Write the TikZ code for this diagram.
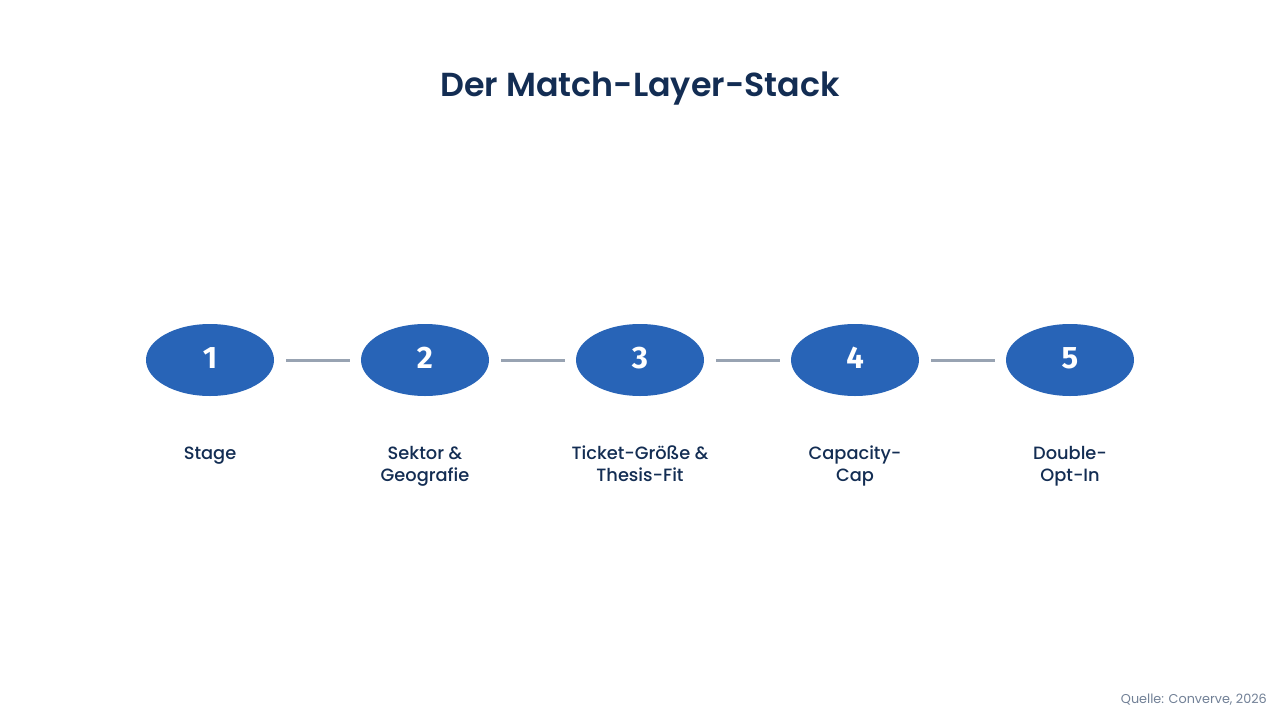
\documentclass[tikz,border=0pt]{standalone}
\usepackage{fontspec}
\setmainfont{Poppins}
\usetikzlibrary{shapes.geometric}
\definecolor{navy}{HTML}{132D53}
\definecolor{blue}{HTML}{2864B7}
\definecolor{conn}{HTML}{98A3B2}
\definecolor{src}{HTML}{718096}
\newfontfamily\digitfont{Fira Sans}
\tikzset{
  x=1pt,y=-1pt,
  stepnode/.style={ellipse,fill=blue,minimum width=128pt,minimum height=72pt,inner sep=0pt},
  stepnum/.style={text=white,inner sep=0pt,font=\fontsize{31}{31}\selectfont\digitfont\bfseries},
  caption/.style={align=center,text=navy,font=\fontsize{17.8}{22.5}\selectfont\fontspec{Poppins Medium}},
  link/.style={draw=conn,line width=3pt,shorten <=12pt,shorten >=11pt},
}
\begin{document}
\begin{tikzpicture}
\useasboundingbox[fill=white] (0,0) rectangle (1280,720);
\node[text=navy,font=\fontsize{33.3}{40}\selectfont\fontspec{Poppins SemiBold}] (title) at (640,89) {Der Match-Layer-Stack};
\foreach \i/\x in {1/210,2/425,3/640,4/855,5/1070}{
  \node[stepnode] (n\i) at (\x,360) {};
  \node[stepnum,anchor=base] (d\i) at (\x,368) {\i};
}
\draw[link] (n1) -- (n2);
\draw[link] (n2) -- (n3);
\draw[link] (n3) -- (n4);
\draw[link] (n4) -- (n5);
\node[caption,anchor=base] (c1) at (210,459) {Stage};
\node[caption,anchor=base] (c2) at (425,481.5) {Sektor \&\\Geografie};
\node[caption,anchor=base] (c3) at (640,481.5) {Ticket-Größe \&\\Thesis-Fit};
\node[caption,anchor=base] (c4) at (855,481.5) {Capacity-\\Cap};
\node[caption,anchor=base] (c5) at (1070,481.5) {Double-\\Opt-In};
\node[anchor=base east,inner sep=0pt,text=src,font=\fontsize{12.8}{15}\selectfont] (source) at (1267,703) {Quelle: Converve, 2026};
\end{tikzpicture}
\end{document}
